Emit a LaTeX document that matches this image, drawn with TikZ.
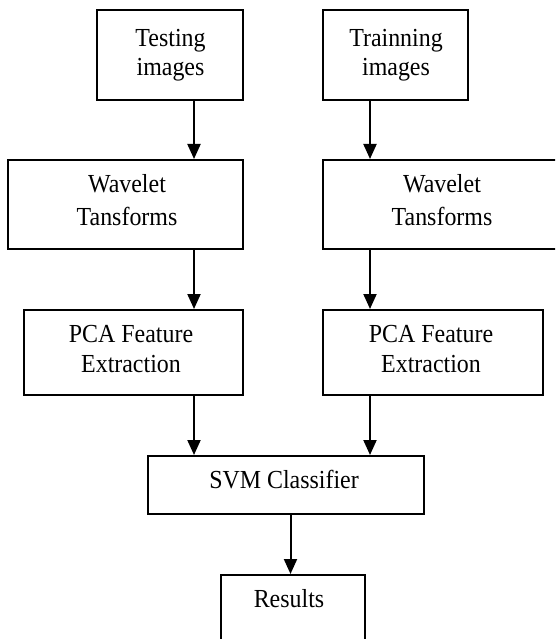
\documentclass[tikz,border=0pt]{standalone}
\usepackage{fontspec}
\setmainfont{Liberation Serif}[FakeStretch=0.92]
\usetikzlibrary{arrows.meta}
\begin{document}
\begin{tikzpicture}[x=1pt,y=-1pt,
  box/.style={draw=black,line width=2pt,rectangle,inner sep=0pt,fill=none},
  txt/.style={anchor=base,inner sep=0pt,text=black,font=\fontsize{26}{30}\selectfont},
  arr/.style={line width=2pt,-{Triangle[width=13pt,length=15pt]}}]
\useasboundingbox (0,0) rectangle (555,639);
\clip (0,0) rectangle (555,639);
\fill[white] (0,0) rectangle (555,639);
% boxes
\node[box,minimum width=146pt,minimum height=90pt] (test) at (170,55) {};
\node[box,minimum width=145pt,minimum height=90pt] (train) at (395.5,55) {};
\node[box,minimum width=235pt,minimum height=89pt] (wav1) at (125.5,204.5) {};
\node[box,minimum width=238pt,minimum height=89pt] (wav2) at (442,204.5) {};
\node[box,minimum width=219.5pt,minimum height=85pt] (pca1) at (133.25,352.5) {};
\node[box,minimum width=220pt,minimum height=85pt] (pca2) at (433,352.5) {};
\node[box,minimum width=276pt,minimum height=58pt] (svm) at (286,485) {};
\node[box,minimum width=143.7pt,minimum height=70pt] (res) at (292.85,610) {};
% texts
\node[txt] (t1a) at (170.5,46.7) {Testing};
\node[txt] (t1b) at (170.5,76) {images};
\node[txt] (t2a) at (396,46.7) {Trainning};
\node[txt] (t2b) at (396,76) {images};
\node[txt] (t3a) at (127,192.7) {Wavelet};
\node[txt] (t3b) at (127,225) {Tansforms};
\node[txt] (t4a) at (442,192.7) {Wavelet};
\node[txt] (t4b) at (442,225) {Tansforms};
\node[txt] (t5a) at (131,342.7) {PCA Feature};
\node[txt] (t5b) at (131,372.7) {Extraction};
\node[txt] (t6a) at (431,342.7) {PCA Feature};
\node[txt] (t6b) at (431,372.7) {Extraction};
\node[txt] (t7) at (284,488.3) {SVM Classifier};
\node[txt] (t8) at (289,607.3) {Results};
% connector columns
\coordinate (cl) at (194,0);
\coordinate (cr) at (370,0);
\coordinate (cm) at (290.5,0);
\draw[arr] (test.south -| cl) -- (wav1.north -| cl);
\draw[arr] (train.south -| cr) -- (wav2.north -| cr);
\draw[arr] (wav1.south -| cl) -- (pca1.north -| cl);
\draw[arr] (wav2.south -| cr) -- (pca2.north -| cr);
\draw[arr] (pca1.south -| cl) -- (svm.north -| cl);
\draw[arr] (pca2.south -| cr) -- (svm.north -| cr);
\draw[arr] (svm.south -| cm) -- (res.north -| cm);
\end{tikzpicture}
\end{document}
